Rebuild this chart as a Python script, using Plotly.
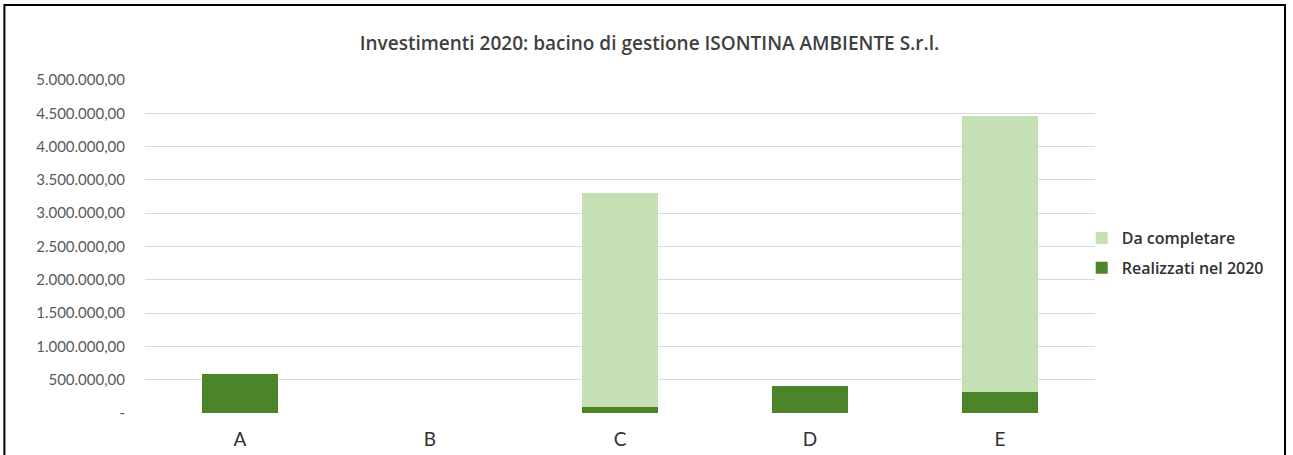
import plotly.graph_objects as go

categories = ["A", "B", "C", "D", "E"]
realizzati_2020 = [585000, 0, 95000, 405000, 320000]
da_completare = [0, 0, 3215000, 0, 4140000]
tick_values = [0, 500000, 1000000, 1500000, 2000000, 2500000, 3000000, 3500000, 4000000, 4500000, 5000000]
tick_labels = ["-", "500.000,00", "1.000.000,00", "1.500.000,00", "2.000.000,00", "2.500.000,00",
               "3.000.000,00", "3.500.000,00", "4.000.000,00", "4.500.000,00", "5.000.000,00"]

FONT = "Lato, 'Open Sans', sans-serif"
FONT2 = "'Open Sans', Lato, sans-serif"

fig = go.Figure()
fig.add_trace(go.Bar(x=categories, y=realizzati_2020, name="Realizzati nel 2020",
                     legendgroup="r", legendrank=2,
                     marker=dict(color="#4c8429", line=dict(width=0))))
fig.add_trace(go.Bar(x=categories, y=da_completare, name="Da completare",
                     legendgroup="d", legendrank=1,
                     marker=dict(color="#c5e0b4", line=dict(width=0))))

fig.update_layout(
    width=1293, height=455,
    barmode="stack", bargap=0.6,
    paper_bgcolor="white", plot_bgcolor="white",
    margin=dict(l=145, r=198, t=80, b=42, autoexpand=False),
    title=dict(text="Investimenti 2020: bacino di gestione ISONTINA AMBIENTE S.r.l.",
               x=0.531, xanchor="center", xref="paper", y=0.905, yanchor="middle",
               font=dict(family=FONT2, size=19, color="#404040", weight=600)),
    font=dict(family=FONT),
    legend=dict(x=0.986, y=0.48, xanchor="left", yanchor="middle",
                traceorder="grouped", tracegroupgap=6,
                font=dict(family=FONT2, size=16, color="#303030", weight=600),
                bgcolor="rgba(0,0,0,0)"),
    xaxis=dict(showgrid=False, showline=False, ticks="", ticklabelstandoff=13,
               automargin=False,
               tickfont=dict(family=FONT, size=19, color="#303030")),
    yaxis=dict(range=[0, 5000000], tickvals=tick_values, ticktext=tick_labels,
               showgrid=True, gridcolor="#d9d9d9", gridwidth=1, zeroline=False,
               showline=False, ticks="", ticklabelstandoff=19, automargin=False,
               tickfont=dict(family=FONT, size=15, color="#595959")),
    shapes=[dict(type="rect", xref="paper", yref="paper",
                 x0=-0.148, x1=1.2, y0=-0.3, y1=1.225,
                 line=dict(color="black", width=2), fillcolor="rgba(0,0,0,0)", layer="below")],
)

fig.write_html("out.html", config={"displayModeBar": False},
               post_script="document.body.style.margin='0';")
